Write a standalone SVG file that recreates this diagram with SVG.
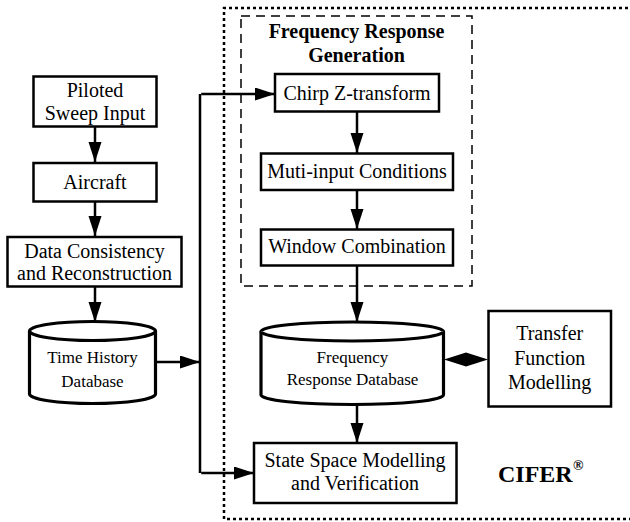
<svg xmlns="http://www.w3.org/2000/svg" width="630" height="522" viewBox="0 0 630 522">
  <defs>
    <marker id="arrow" markerUnits="userSpaceOnUse" markerWidth="21" markerHeight="14" refX="20" refY="6.5" orient="auto">
      <path d="M0,0 L20,6.5 L0,13 z" fill="#000"/>
    </marker>
    <style>
      .box { fill: #fff; stroke: #000; stroke-width: 2.5; }
      .cyl { fill: #fff; stroke: #000; stroke-width: 3.2; }
      .lbl { font-family: "Liberation Serif", "Times New Roman", serif; font-size: 20px; fill: #000; text-anchor: middle; }
      .small { font-size: 17px; }
      .bold { font-weight: bold; }
      .conn { fill: none; stroke: #000; stroke-width: 2.5; }
    </style>
  </defs>
  <rect width="630" height="522" fill="#fff"/>

  <!-- CIFER boundary (dotted) -->
  <path d="M640,8 H224 V519 H640" fill="none" stroke="#000" stroke-width="2.5" stroke-dasharray="3 3"/>
  <!-- Frequency response generation group (dashed) -->
  <rect x="241" y="16" width="231" height="270" fill="none" stroke="#000" stroke-width="1.5" stroke-dasharray="9 6"/>
  <g id="frg-title">
    <text class="lbl bold" x="356.5" y="38">Frequency Response</text>
    <text class="lbl bold" x="356.5" y="62">Generation</text>
  </g>

  <g id="connectors">
    <line class="conn" x1="95" y1="127" x2="95" y2="162" marker-end="url(#arrow)"/>
    <line class="conn" x1="95" y1="202" x2="95" y2="236" marker-end="url(#arrow)"/>
    <line class="conn" x1="95" y1="287" x2="95" y2="322" marker-end="url(#arrow)"/>
    <line class="conn" x1="157" y1="362" x2="200" y2="362" marker-end="url(#arrow)"/>
    <line class="conn" x1="200" y1="94" x2="200" y2="473"/>
    <path class="conn" d="M201.2,94 H275" marker-end="url(#arrow)"/>
    <path class="conn" d="M201.2,473 H254" marker-end="url(#arrow)"/>
    <line class="conn" x1="357" y1="112" x2="357" y2="153" marker-end="url(#arrow)"/>
    <line class="conn" x1="357" y1="190" x2="357" y2="229" marker-end="url(#arrow)"/>
    <line class="conn" x1="357" y1="266" x2="357" y2="322" marker-end="url(#arrow)"/>
    <line class="conn" x1="357" y1="405" x2="357" y2="443" marker-end="url(#arrow)"/>
    <polygon points="444,359.5 466,352.5 488,359.5 466,366.5" fill="#000"/>
  </g>

  <g id="piloted-sweep-input">
    <rect class="box" x="33.5" y="76.5" width="123" height="50"/>
    <text class="lbl" x="95" y="97">Piloted</text>
    <text class="lbl" x="95" y="120">Sweep Input</text>
  </g>
  <g id="aircraft">
    <rect class="box" x="33.5" y="163" width="123" height="38.5"/>
    <text class="lbl" x="95" y="189">Aircraft</text>
  </g>
  <g id="data-consistency">
    <rect class="box" x="7.5" y="237" width="174" height="49.5"/>
    <text class="lbl" x="94.5" y="258">Data Consistency</text>
    <text class="lbl" x="94.5" y="280">and Reconstruction</text>
  </g>
  <g id="time-history-db">
    <path class="cyl" d="M29.5,331 A63,9.5 0 0 1 155.5,331 V394 A63,9.5 0 0 1 29.5,394 Z"/>
    <path class="cyl" d="M29.5,331 A63,9.5 0 0 0 155.5,331" fill="none"/>
    <text class="lbl small" x="92.5" y="363">Time History</text>
    <text class="lbl small" x="92.5" y="387">Database</text>
  </g>
  <g id="chirp-z-transform">
    <rect class="box" x="275" y="74" width="164" height="37.5"/>
    <text class="lbl" x="357" y="100">Chirp Z-transform</text>
  </g>
  <g id="multi-input-conditions">
    <rect class="box" x="261" y="153.5" width="192" height="36.5"/>
    <text class="lbl" x="357" y="178">Muti-input Conditions</text>
  </g>
  <g id="window-combination">
    <rect class="box" x="261" y="229.5" width="192" height="36"/>
    <text class="lbl" x="357" y="253">Window Combination</text>
  </g>
  <g id="frequency-response-db">
    <path class="cyl" d="M261,331.5 A91.25,9.5 0 0 1 443.5,331.5 V395 A91.25,9.5 0 0 1 261,395 Z"/>
    <path class="cyl" d="M261,331.5 A91.25,9.5 0 0 0 443.5,331.5" fill="none"/>
    <text class="lbl small" x="352.5" y="363">Frequency</text>
    <text class="lbl small" x="352.5" y="385">Response Database</text>
  </g>
  <g id="transfer-function-modelling">
    <rect class="box" x="488.5" y="311" width="122.5" height="95.5"/>
    <text class="lbl" x="549.7" y="340">Transfer</text>
    <text class="lbl" x="549.7" y="365">Function</text>
    <text class="lbl" x="549.7" y="389">Modelling</text>
  </g>
  <g id="state-space-modelling">
    <rect class="box" x="254" y="443" width="202.5" height="60"/>
    <text class="lbl" x="355" y="467">State Space Modelling</text>
    <text class="lbl" x="355" y="490">and Verification</text>
  </g>
  <g id="cifer-label">
    <text class="lbl bold" x="498" y="482" style="text-anchor:start;font-size:24px">CIFER</text>
    <text class="lbl bold" x="573" y="470" style="text-anchor:start;font-size:14px">®</text>
  </g>
</svg>
